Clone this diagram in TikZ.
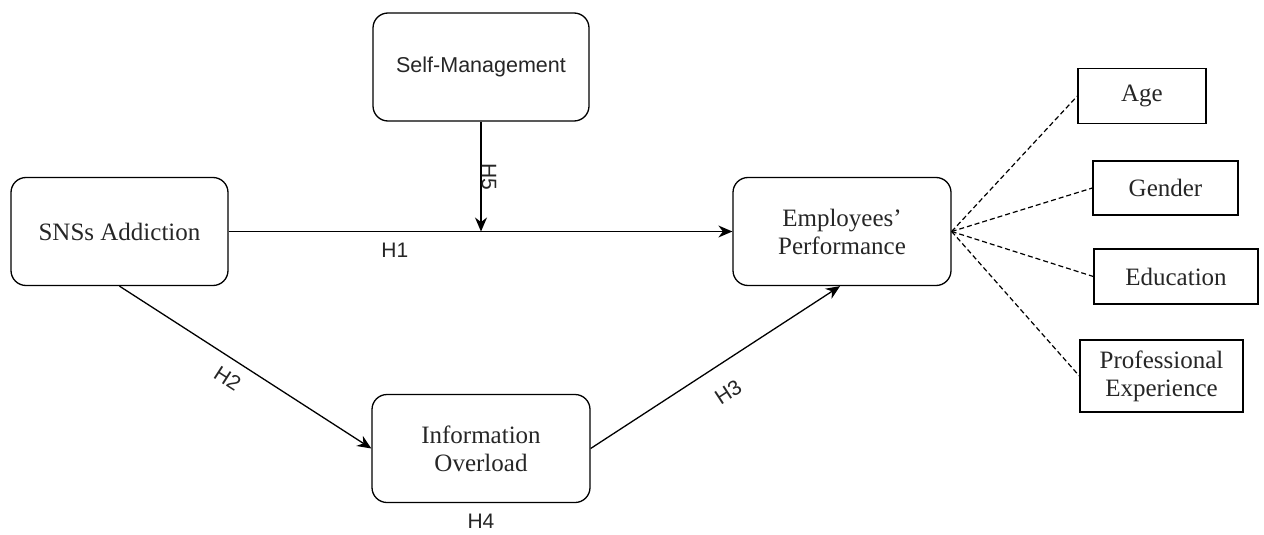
\documentclass[tikz,border=0pt]{standalone}
\usepackage{fontspec}
\setmainfont{Liberation Serif}
\setsansfont{Liberation Sans}
\usetikzlibrary{arrows.meta, positioning}

\begin{document}
\begin{tikzpicture}[
    x=1pt, y=-1pt,
    every node/.style={text=black!85},
    construct/.style={draw, rounded corners=15pt, line width=1.3pt, minimum width=216pt, minimum height=108pt, align=center, font=\fontsize{25}{28}\selectfont},
    control/.style={draw, rectangle, line width=1.3pt, align=center, font=\fontsize{25}{28}\selectfont},
    hyp/.style={font=\sffamily\fontsize{21}{24}\selectfont, inner sep=2pt},
    every edge/.style={draw, -{Stealth[length=14pt, width=12pt]}, line width=1.3pt},
    ctrl line/.style={dash pattern=on 5pt off 3pt, line width=1.2pt}
]
\useasboundingbox (0,0) rectangle (1264,535);

% Constructs
\node[construct, font=\sffamily\fontsize{21.5}{24}\selectfont] (selfm) at (481,67) {Self-Management};
\node[construct, minimum width=217pt] (sns) at (119.5,231.5) {SNSs Addiction};
\node[construct, minimum width=218pt] (emp) at (842,231.5) {Employees’\\Performance};
\node[construct, minimum width=218pt] (info) at (481,448.5) {Information\\Overload};

% Control variables
\node[control, minimum width=128pt, minimum height=55pt] (age) at (1142,96) {Age};
\node[control, minimum width=145pt, minimum height=54pt] (gender) at (1165.5,188) {Gender};
\node[control, minimum width=164pt, minimum height=55pt] (edu) at (1176,276.5) {Education};
\node[control, minimum width=163pt, minimum height=72pt] (exper) at (1161.5,376) {Professional\\Experience};

% Hypotheses
\coordinate (join) at (selfm.south |- sns.east);
\path (sns) edge node[hyp, pos=0.33, below=9pt] {H1} (emp);
\path (selfm) edge node[hyp, pos=0.5, xshift=8pt, rotate=-90] {H5} (join);
\path (sns.south) edge node[hyp, pos=0.47, sloped, below=9pt] {H2} (info.west);
\path (info.east) edge node[hyp, pos=0.49, sloped, below=18pt] {H3} ([xshift=-2pt]emp.south);
\node[hyp, below=9pt of info] (h4) {H4};

% Dashed links to controls
\foreach \c in {age, gender, edu, exper}
    \draw[ctrl line] (emp.east) -- (\c.west);

\end{tikzpicture}
\end{document}
